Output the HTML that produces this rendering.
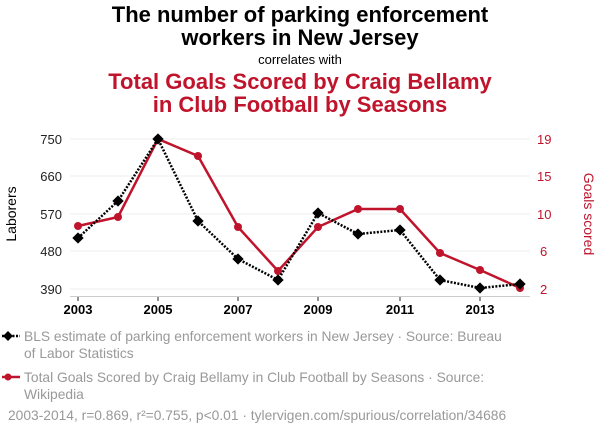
<!DOCTYPE html>
<html><head><style>
body{margin:0;background:#fff;font-family:"Liberation Sans",sans-serif;}
</style></head><body>
<svg width="600" height="436" viewBox="0 0 600 436" xmlns="http://www.w3.org/2000/svg" font-family="Liberation Sans, sans-serif">
<text x="300" y="22" text-anchor="middle" font-size="22" font-weight="bold" fill="#000">The number of parking enforcement</text>
<text x="300" y="45" text-anchor="middle" font-size="22" font-weight="bold" fill="#000">workers in New Jersey</text>
<text x="300" y="64" text-anchor="middle" font-size="13" fill="#000">correlates with</text>
<text x="300" y="89" text-anchor="middle" font-size="22" font-weight="bold" fill="#c0142c">Total Goals Scored by Craig Bellamy</text>
<text x="300" y="112" text-anchor="middle" font-size="22" font-weight="bold" fill="#c0142c">in Club Football by Seasons</text>
<g stroke="#ececec" stroke-width="1">
<line x1="70" y1="139" x2="530" y2="139"/><line x1="70" y1="176" x2="530" y2="176"/><line x1="70" y1="214" x2="530" y2="214"/><line x1="70" y1="251" x2="530" y2="251"/><line x1="70" y1="289" x2="530" y2="289"/>
</g>
<line x1="70" y1="296.5" x2="530" y2="296.5" stroke="#ccc" stroke-width="1"/>
<g font-size="13" fill="#222" text-anchor="end">
<text x="62" y="144">750</text><text x="62" y="181">660</text><text x="62" y="219">570</text><text x="62" y="256">480</text><text x="62" y="294">390</text>
</g>
<g font-size="13" fill="#c0142c" text-anchor="start">
<text x="537" y="144">19</text><text x="537" y="181">15</text><text x="537" y="219">10</text><text x="540" y="256">6</text><text x="540" y="294">2</text>
</g>
<text transform="translate(16,214) rotate(-90)" text-anchor="middle" font-size="14" fill="#000">Laborers</text>
<text transform="translate(584,214) rotate(90)" text-anchor="middle" font-size="14" fill="#c0142c">Goals scored</text>
<g font-size="13" font-weight="bold" fill="#000" text-anchor="middle">
<text x="78" y="314">2003</text><text x="158" y="314">2005</text><text x="238" y="314">2007</text><text x="318" y="314">2009</text><text x="400" y="314">2011</text><text x="480" y="314">2013</text>
</g>
<g stroke="#222"><line x1="78" y1="297" x2="78" y2="301"/><line x1="158" y1="297" x2="158" y2="301"/><line x1="238" y1="297" x2="238" y2="301"/><line x1="318" y1="297" x2="318" y2="301"/><line x1="400" y1="297" x2="400" y2="301"/><line x1="480" y1="297" x2="480" y2="301"/></g>
<polyline fill="none" stroke="#c0142c" stroke-width="2.5" points="78,226 118,217 158,139 198,156 238,227 278,271 318,227 358,209 400,209 440,253 480,270 520,288"/>
<g fill="#c0142c">
<circle cx="78" cy="226" r="4"/><circle cx="118" cy="217" r="4"/><circle cx="158" cy="139" r="4"/><circle cx="198" cy="156" r="4"/><circle cx="238" cy="227" r="4"/><circle cx="278" cy="271" r="4"/><circle cx="318" cy="227" r="4"/><circle cx="358" cy="209" r="4"/><circle cx="400" cy="209" r="4"/><circle cx="440" cy="253" r="4"/><circle cx="480" cy="270" r="4"/><circle cx="520" cy="288" r="4"/>
</g>
<polyline fill="none" stroke="#000" stroke-width="2.5" stroke-dasharray="2,1.5" points="78,238 118,201 158,139 198,221 238,259 278,280 318,213 358,234 400,230 440,280 480,288 520,284"/>
<g fill="#000">
<rect x="-4" y="-4" width="8" height="8" transform="translate(78,238) rotate(45)"/>
<rect x="-4" y="-4" width="8" height="8" transform="translate(118,201) rotate(45)"/>
<rect x="-4" y="-4" width="8" height="8" transform="translate(158,139) rotate(45)"/>
<rect x="-4" y="-4" width="8" height="8" transform="translate(198,221) rotate(45)"/>
<rect x="-4" y="-4" width="8" height="8" transform="translate(238,259) rotate(45)"/>
<rect x="-4" y="-4" width="8" height="8" transform="translate(278,280) rotate(45)"/>
<rect x="-4" y="-4" width="8" height="8" transform="translate(318,213) rotate(45)"/>
<rect x="-4" y="-4" width="8" height="8" transform="translate(358,234) rotate(45)"/>
<rect x="-4" y="-4" width="8" height="8" transform="translate(400,230) rotate(45)"/>
<rect x="-4" y="-4" width="8" height="8" transform="translate(440,280) rotate(45)"/>
<rect x="-4" y="-4" width="8" height="8" transform="translate(480,288) rotate(45)"/>
<rect x="-4" y="-4" width="8" height="8" transform="translate(520,284) rotate(45)"/>
</g>
<line x1="2" y1="336" x2="20" y2="336" stroke="#000" stroke-width="2.5" stroke-dasharray="2,1.5"/>
<rect x="-3.5" y="-3.5" width="7" height="7" fill="#000" transform="translate(8,336) rotate(45)"/>
<g font-size="13.8" fill="#999">
<text x="24" y="341">BLS estimate of parking enforcement workers in New Jersey · Source: Bureau</text>
<text x="24" y="358">of Labor Statistics</text>
<text x="24" y="382">Total Goals Scored by Craig Bellamy in Club Football by Seasons · Source:</text>
<text x="24" y="399">Wikipedia</text>
<text x="8" y="420">2003-2014, r=0.869, r²=0.755, p&lt;0.01 · tylervigen.com/spurious/correlation/34686</text>
</g>
<line x1="2" y1="377" x2="20" y2="377" stroke="#c0142c" stroke-width="2.5"/>
<circle cx="8" cy="377" r="3.5" fill="#c0142c"/>
</svg>
</body></html>
